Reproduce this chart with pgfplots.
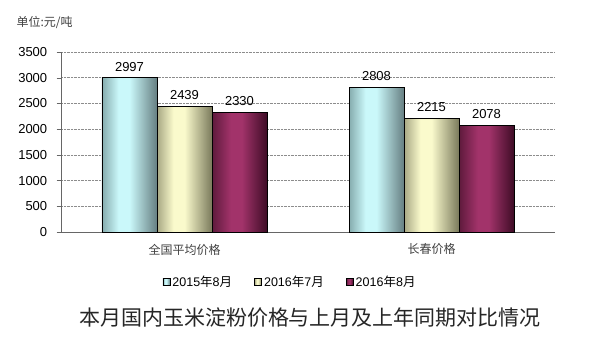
\documentclass[border=0pt]{standalone}
\usepackage{fontspec}
\setmainfont{Liberation Sans}
\newfontfamily\cjk{Noto Sans CJK SC}
\usepackage{pgfplots}
\pgfplotsset{compat=1.18}
\definecolor{aL}{HTML}{86ACAE}\definecolor{aM}{HTML}{CAF8FA}\definecolor{aR}{HTML}{667F82}
\definecolor{bL}{HTML}{A8A884}\definecolor{bM}{HTML}{FAFACC}\definecolor{bR}{HTML}{7A7A5C}
\definecolor{cL}{HTML}{5E1A3C}\definecolor{cM}{HTML}{A2336A}\definecolor{cR}{HTML}{3E0C26}
\pgfdeclarehorizontalshading{shA}{100bp}{color(0bp)=(aL); color(25bp)=(aL); color(40bp)=(aM); color(50bp)=(aM); color(75bp)=(aR); color(100bp)=(aR)}
\pgfdeclarehorizontalshading{shB}{100bp}{color(0bp)=(bL); color(25bp)=(bL); color(40bp)=(bM); color(50bp)=(bM); color(75bp)=(bR); color(100bp)=(bR)}
\pgfdeclarehorizontalshading{shC}{100bp}{color(0bp)=(cL); color(25bp)=(cL); color(42bp)=(cM); color(52bp)=(cM); color(75bp)=(cR); color(100bp)=(cR)}
\begin{document}
\begin{tikzpicture}[x=1pt,y=1pt]
\path[use as bounding box] (0,0) rectangle (600,337);
\begin{axis}[
  at={(61pt,105pt)}, anchor=south west,
  scale only axis, width=494pt, height=180pt,
  xmin=-0.5, xmax=1.5, ymin=0, ymax=3500,
  ytick={0,500,...,3500},
  xtick={0,1}, xticklabels={{\cjk 全国平均价格},{\cjk 长春价格}},
  xticklabel style={font=\fontsize{12}{12}\selectfont, text=black!75, yshift=-4pt},
  extra x ticks={-0.5,0.5,1.5}, extra x tick labels={},
  extra x tick style={major tick length=4pt, major tick style={black!60}},
  major x tick style={draw=none},
  axis x line*=bottom, axis y line*=left,
  axis line style={black!60, line width=0.8pt},
  ytick style={black!60}, tick align=outside,
  yticklabel style={font=\fontsize{13}{13}\selectfont, xshift=-6pt},
  /pgf/number format/assume math mode=true,
  /pgf/number format/1000 sep={},
  ymajorgrids, grid style={black!45, densely dotted, line width=0.6pt},
  ybar, bar width=55pt,
  nodes near coords,
  nodes near coords style={font=\fontsize{13}{13}\selectfont, /pgf/number format/1000 sep={}, yshift=3pt},
  legend style={at={(0.4636,-0.278)}, anchor=center, draw=none, legend columns=3,
    font=\fontsize{12.5}{12.5}\selectfont, /tikz/every even column/.append style={column sep=20pt}},
  legend image code/.code={\draw[black, line width=0.9pt, #1] (0pt,-3.5pt) rectangle (7pt,3.5pt);},
  clip=false,
]
\addplot[draw=black, line width=0.8pt, shading=shA, bar shift=-55pt] coordinates {(0,2997)};
\addlegendentry{2015{\cjk 年}8{\cjk 月}}
\addplot[draw=black, line width=0.8pt, shading=shB, bar shift=0pt] coordinates {(0,2439)};
\addlegendentry{2016{\cjk 年}7{\cjk 月}}
\addplot[draw=black, line width=0.8pt, shading=shC, bar shift=55pt] coordinates {(0,2330)};
\addlegendentry{2016{\cjk 年}8{\cjk 月}}
\addplot[draw=black, line width=0.8pt, shading=shA, bar shift=-55pt, forget plot] coordinates {(1,2808)};
\addplot[draw=black, line width=0.8pt, shading=shB, bar shift=0pt, forget plot] coordinates {(1,2215)};
\addplot[draw=black, line width=0.8pt, shading=shC, bar shift=55pt, forget plot] coordinates {(1,2078)};
\end{axis}
\node[anchor=west, font=\cjk\fontsize{12}{12}\selectfont, text=black!75] at (13,315) {单位:元/吨};
\node[font=\cjk\fontsize{21}{21}\selectfont, text=black!85] at (310,19) {本月国内玉米淀粉价格与上月及上年同期对比情况};
\end{tikzpicture}
\end{document}
